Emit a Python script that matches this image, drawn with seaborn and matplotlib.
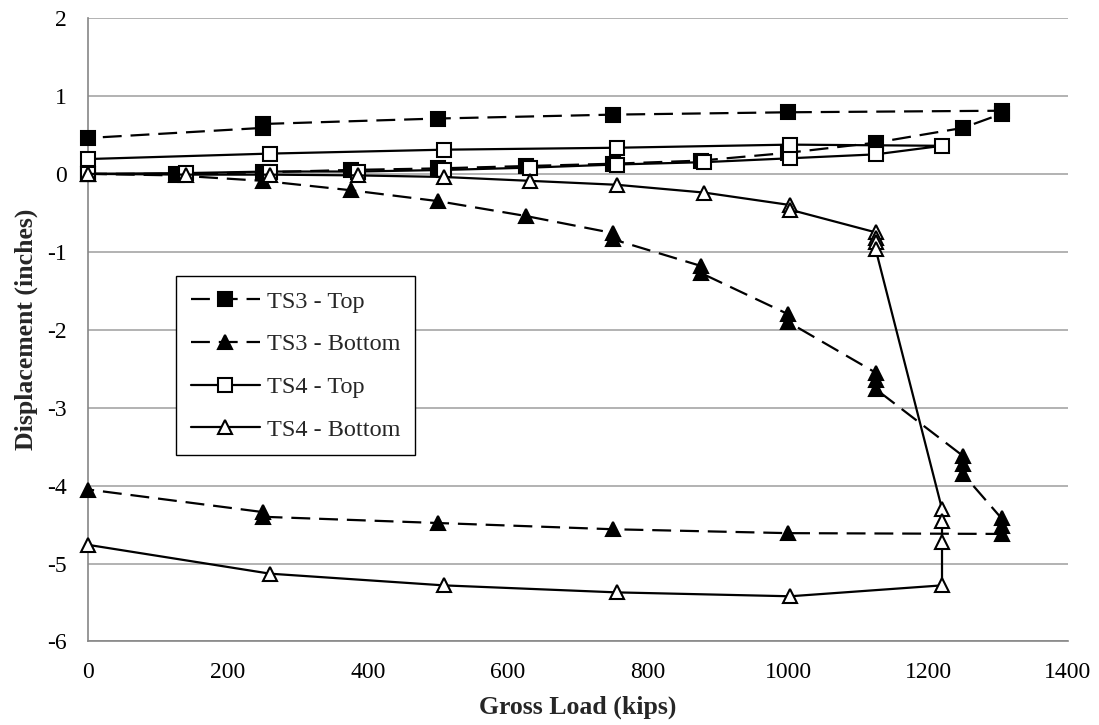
import matplotlib
matplotlib.use("Agg")
import matplotlib.pyplot as plt
from matplotlib.ticker import MultipleLocator
import seaborn as sns

# ---------------- data (kips, inches) ----------------
ts3_top_x = [0, 125, 250, 375, 500, 625, 750, 875, 1000, 1125, 1250, 1305, 1305,
             1000, 750, 500, 250, 250, 0]
ts3_top_y = [0.00, 0.00, 0.02, 0.05, 0.07, 0.10, 0.13, 0.17, 0.27, 0.40, 0.59, 0.77, 0.81,
             0.79, 0.76, 0.71, 0.64, 0.59, 0.46]

ts3_bot_x = [0, 125, 250, 375, 500, 625, 750, 750, 875, 875, 1000, 1000,
             1125, 1125, 1125, 1250, 1250, 1250, 1305, 1305, 1305,
             1000, 750, 500, 250, 250, 0]
ts3_bot_y = [0.00, -0.02, -0.09, -0.21, -0.35, -0.54, -0.76, -0.84, -1.18, -1.27, -1.80, -1.90,
             -2.55, -2.65, -2.76, -3.62, -3.72, -3.85, -4.42, -4.52, -4.62,
             -4.61, -4.56, -4.48, -4.40, -4.34, -4.05]

ts4_top_x = [0, 140, 260, 386, 508, 632, 755, 880, 1003, 1125, 1220,
             1003, 755, 508, 260, 0]
ts4_top_y = [0.00, 0.01, 0.03, 0.03, 0.05, 0.08, 0.12, 0.15, 0.20, 0.25, 0.36,
             0.375, 0.335, 0.31, 0.26, 0.19]

ts4_bot_x = [0, 140, 260, 386, 508, 632, 755, 880, 1003, 1003,
             1125, 1125, 1125, 1125, 1220, 1220, 1220, 1220,
             1003, 755, 508, 260, 0]
ts4_bot_y = [0.00, -0.01, -0.01, -0.02, -0.04, -0.09, -0.14, -0.24, -0.40, -0.46,
             -0.75, -0.82, -0.88, -0.96, -4.30, -4.46, -4.73, -5.28,
             -5.42, -5.37, -5.28, -5.13, -4.76]

labels = ["TS3 - Top", "TS3 - Bottom", "TS4 - Top", "TS4 - Bottom"]
x_label = "Gross Load (kips)"
y_label = "Displacement (inches)"

# ---------------- style ----------------
sns.set_style("white")
plt.rcParams["font.family"] = ["Liberation Serif", "DejaVu Serif"]
plt.rcParams["axes.unicode_minus"] = False

fig = plt.figure(figsize=(10.99, 7.25), dpi=100)
ax = fig.add_axes([0.0801, 0.1152, 0.8917, 0.8600])

lw = 1.6
dash = (0, (8.5, 4))
series = [
    (ts3_top_x, ts3_top_y, "s", "black", dash),
    (ts3_bot_x, ts3_bot_y, "^", "black", dash),
    (ts4_top_x, ts4_top_y, "s", "white", "-"),
    (ts4_bot_x, ts4_bot_y, "^", "white", "-"),
]
handles = []
for (xs, ys, mk, fc, ls), lab in zip(series, labels):
    sns.lineplot(x=xs, y=ys, sort=False, estimator=None, ax=ax, color="black",
                 marker=mk, markersize=10.5,
                 markerfacecolor=fc, markeredgecolor="black",
                 markeredgewidth=1.5, linewidth=lw, clip_on=False, zorder=3)
    line = ax.lines[-1]
    line.set_linestyle(ls)
    line.set_dash_capstyle("butt")
    line.set_label(lab)
    handles.append(line)

ax.set_xlim(0, 1400)
ax.set_ylim(-6, 2)
ax.xaxis.set_major_locator(MultipleLocator(200))
ax.xaxis.set_minor_locator(MultipleLocator(40))
ax.yaxis.set_major_locator(MultipleLocator(1))
ax.yaxis.set_minor_locator(MultipleLocator(0.2))

ax.yaxis.grid(True, which="major", color="#a6a6a6", linewidth=1.2)
ax.xaxis.grid(False)
ax.set_axisbelow(True)

for side in ["top", "right"]:
    ax.spines[side].set_visible(False)
for side in ["left", "bottom"]:
    ax.spines[side].set_color("#868686")
    ax.spines[side].set_linewidth(1.2)

ax.tick_params(which="major", direction="out", length=6, width=1.2, color="#868686",
               labelsize=17, pad=9, labelcolor="black")
ax.tick_params(which="minor", direction="out", length=4, width=1.0, color="#868686")

ax.set_xlabel(x_label, fontsize=18.5, fontweight="bold", labelpad=9)
ax.set_ylabel(y_label, fontsize=18.5, fontweight="bold", labelpad=7)

leg = ax.legend(handles=handles, labels=labels, loc="upper left",
                bbox_to_anchor=(0.0898, 0.586), borderaxespad=0,
                fontsize=17.5, frameon=True, fancybox=False,
                edgecolor="black", handlelength=2.85, handletextpad=0.3,
                labelspacing=0.85, borderpad=0.6, numpoints=1)
leg.get_frame().set_linewidth(1.0)
leg.get_frame().set_alpha(1)

fig.savefig("out.png", dpi=100)
